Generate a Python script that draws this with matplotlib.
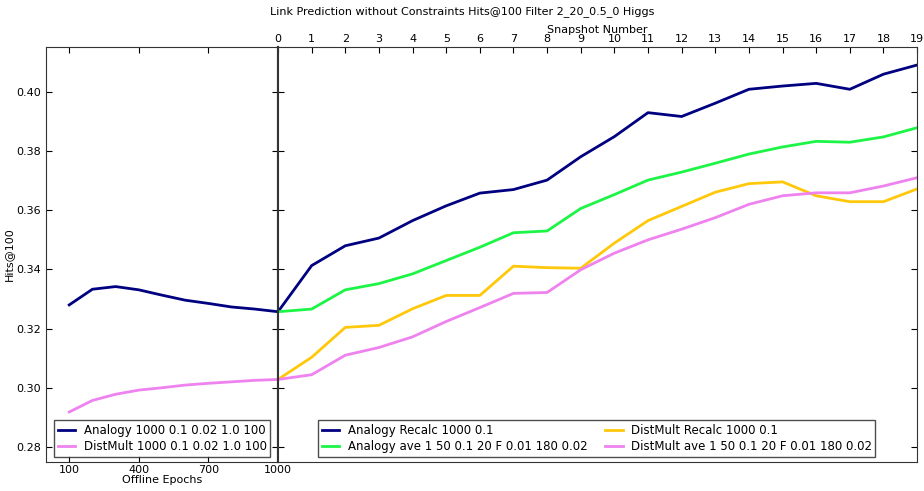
import numpy as np
from matplotlib import pyplot as plt

# offline part (left panel)
epochs = [100, 200, 300, 400, 500, 600, 700, 800, 900, 1000]
analogy_off = [0.3280, 0.3333, 0.3342, 0.3331, 0.3313, 0.3296, 0.3285, 0.3273, 0.3266, 0.3257]
distmult_off = [0.2918, 0.2957, 0.2978, 0.2992, 0.3000, 0.3009, 0.3015, 0.3020, 0.3025, 0.3028]

# online part (right panel)
snapshots = list(range(20))
analogy_recalc = [0.3257, 0.3413, 0.3480, 0.3506, 0.3565, 0.3615, 0.3658, 0.3670, 0.3702, 0.3781,
                  0.3849, 0.3930, 0.3917, 0.3962, 0.4009, 0.4020, 0.4029, 0.4009, 0.4060, 0.4091]
analogy_ave = [0.3257, 0.3266, 0.3331, 0.3352, 0.3385, 0.3430, 0.3475, 0.3524, 0.3530, 0.3606,
               0.3653, 0.3702, 0.3729, 0.3759, 0.3790, 0.3814, 0.3833, 0.3830, 0.3848, 0.3879]
distmult_recalc = [0.3028, 0.3103, 0.3204, 0.3211, 0.3267, 0.3312, 0.3312, 0.3411, 0.3406, 0.3404,
                   0.3489, 0.3565, 0.3613, 0.3661, 0.3690, 0.3696, 0.3649, 0.3629, 0.3629, 0.3672]
distmult_ave = [0.3028, 0.3044, 0.3110, 0.3136, 0.3172, 0.3224, 0.3271, 0.3319, 0.3322, 0.3399,
                0.3455, 0.3500, 0.3536, 0.3575, 0.3620, 0.3649, 0.3659, 0.3659, 0.3682, 0.3710]

c_navy = '#000080'
c_green = '#1cf546'
c_gold = '#ffc80a'
c_violet = '#ee82ee'

plt.rcParams['font.size'] = 8
plt.rcParams['xtick.direction'] = 'in'
plt.rcParams['ytick.direction'] = 'in'

fig = plt.figure(figsize=(9.24, 4.91), dpi=100)
ax1 = fig.add_axes([0.0498, 0.0591, 0.2511, 0.8452])
ax2 = fig.add_axes([0.3009, 0.0591, 0.6916, 0.8452])

ylim = (0.2749, 0.4152)
yt = [0.28, 0.30, 0.32, 0.34, 0.36, 0.38, 0.40]

ax1.plot(epochs, analogy_off, color=c_navy, lw=2, label='Analogy 1000 0.1 0.02 1.0 100')
ax1.plot(epochs, distmult_off, color=c_violet, lw=2, label='DistMult 1000 0.1 0.02 1.0 100')
ax1.set_xlim(0, 1000)
ax1.set_ylim(*ylim)
ax1.set_xticks([100, 400, 700, 1000])
ax1.set_yticks(yt)
ax1.tick_params(top=True, right=True, length=4)
ax1.tick_params(axis='x', pad=2.5)
ax1.set_xlabel('Offline Epochs', labelpad=0)
ax1.set_ylabel('Hits@100', labelpad=2)
leg1 = ax1.legend(loc='lower left', fontsize=8.5, handlelength=1.5, handletextpad=0.7,
                  labelspacing=0.3, bbox_to_anchor=(0.035, 0.012), borderaxespad=0,
                  borderpad=0.3)
leg1.get_frame().set_edgecolor('#222222')
leg1.get_frame().set_boxstyle('square', pad=0)

ax2.plot(snapshots, analogy_recalc, color=c_navy, lw=2, label='Analogy Recalc 1000 0.1')
ax2.plot(snapshots, analogy_ave, color=c_green, lw=2, label='Analogy ave 1 50 0.1 20 F 0.01 180 0.02')
ax2.plot(snapshots, distmult_recalc, color=c_gold, lw=2, label='DistMult Recalc 1000 0.1')
ax2.plot(snapshots, distmult_ave, color=c_violet, lw=2, label='DistMult ave 1 50 0.1 20 F 0.01 180 0.02')
ax2.set_xlim(0, 19)
ax2.set_ylim(*ylim)
ax2.set_xticks(snapshots)
ax2.set_yticks(yt)
ax2.xaxis.tick_top()
ax2.xaxis.set_label_position('top')
ax2.set_xlabel('Snapshot Number', labelpad=1)
ax2.tick_params(axis='y', left=True, right=True, labelleft=False, length=4)
ax2.tick_params(axis='x', top=True, bottom=False, length=4, pad=2)
leg2 = ax2.legend(loc='lower left', ncol=2, fontsize=8.5, bbox_to_anchor=(0.0626, 0.012),
                  handlelength=1.5, handletextpad=0.7, columnspacing=1.5, labelspacing=0.3,
                  borderaxespad=0, borderpad=0.3)
leg2.get_frame().set_edgecolor('#222222')
leg2.get_frame().set_boxstyle('square', pad=0)

for ax in (ax1, ax2):
    for s in ax.spines.values():
        s.set_color('#333333')
ax1.spines['right'].set_linewidth(1.5)
ax2.spines['left'].set_linewidth(1.5)

fig.suptitle('Link Prediction without Constraints Hits@100 Filter 2_20_0.5_0 Higgs', y=0.988, fontsize=8)

fig.savefig('out.png', dpi=100)
